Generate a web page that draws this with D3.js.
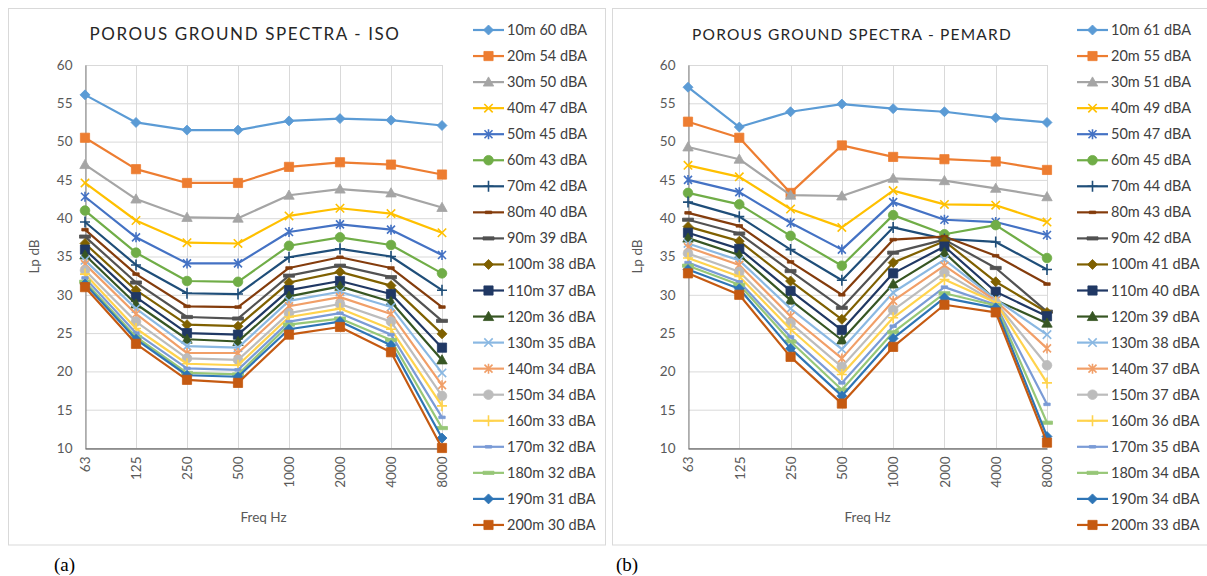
<!DOCTYPE html>
<html><head><meta charset="utf-8">
<script src="https://cdn.jsdelivr.net/npm/d3@7"></script>
<style>
html,body{margin:0;padding:0;background:#fff;}
svg{display:block;font-family:Lato,"Open Sans",sans-serif;}
</style></head>
<body>
<svg id="c" width="1207" height="576"></svg>
<script>
const freqLabels = ["63","125","250","500","1000","2000","4000","8000"];
const yTicks = [10,15,20,25,30,35,40,45,50,55,60];
const distances = ["10m","20m","30m","40m","50m","60m","70m","80m","90m","100m","110m","120m","130m","140m","150m","160m","170m","180m","190m","200m"];
const isoDBA = [60,54,50,47,45,43,42,40,39,38,37,36,35,34,34,33,32,32,31,30];
const pemardDBA = [61,55,51,49,47,45,44,43,42,41,40,39,38,37,37,36,35,34,34,33];

const isoValues = [
  [56.1,52.5,51.5,51.5,52.7,53.0,52.8,52.1],
  [50.5,46.4,44.6,44.6,46.7,47.3,47.0,45.7],
  [47.0,42.5,40.1,40.0,43.0,43.8,43.3,41.4],
  [44.6,39.7,36.8,36.7,40.3,41.3,40.6,38.1],
  [42.8,37.5,34.1,34.1,38.2,39.2,38.5,35.2],
  [41.0,35.5,31.8,31.7,36.4,37.5,36.5,32.8],
  [39.5,33.9,30.2,30.1,34.9,36.0,35.0,30.6],
  [38.5,32.7,28.5,28.4,33.5,34.9,33.5,28.4],
  [37.6,31.6,27.1,26.9,32.5,33.8,32.3,26.6],
  [36.7,30.6,26.1,25.9,31.6,33.0,31.2,24.9],
  [35.9,29.7,25.0,24.8,30.6,31.8,30.1,23.1],
  [35.2,28.8,24.2,23.9,29.8,31.1,29.1,21.5],
  [34.5,28.2,23.3,23.1,29.2,30.4,28.4,19.8],
  [34.0,27.5,22.4,22.4,28.5,29.7,27.5,18.2],
  [33.2,26.5,21.7,21.5,27.6,28.8,26.5,16.8],
  [32.7,25.6,21.0,20.8,27.1,28.2,25.5,15.5],
  [32.2,25.0,20.4,20.2,26.5,27.6,24.8,14.0],
  [31.7,24.5,19.8,19.6,26.1,26.9,24.1,12.6],
  [31.4,24.2,19.5,19.3,25.5,26.5,23.4,11.3],
  [31.0,23.6,18.9,18.5,24.8,25.8,22.5,10.0]
];
const pemardValues = [
  [57.1,51.9,53.9,54.9,54.3,53.9,53.1,52.5],
  [52.6,50.5,43.3,49.5,48.0,47.7,47.4,46.3],
  [49.3,47.7,43.0,42.9,45.2,44.9,43.9,42.8],
  [46.9,45.4,41.2,38.8,43.6,41.8,41.7,39.5],
  [45.0,43.4,39.4,35.9,42.1,39.8,39.5,37.8],
  [43.3,41.8,37.7,33.8,40.4,37.9,39.1,34.8],
  [42.1,40.2,35.9,31.9,38.8,37.3,36.9,33.3],
  [40.7,39.0,34.3,30.0,37.2,37.6,35.1,31.4],
  [39.8,38.0,33.1,28.3,35.5,37.2,33.5,27.8],
  [38.9,37.0,31.8,26.8,34.2,37.0,31.7,27.7],
  [38.1,36.0,30.5,25.4,32.8,36.3,30.4,27.2],
  [37.4,35.2,29.3,24.1,31.4,35.5,29.3,26.3],
  [36.7,34.5,28.2,22.9,30.3,34.6,29.4,24.8],
  [36.2,33.9,27.2,21.7,29.2,33.8,29.2,23.0],
  [35.4,33.0,26.3,20.6,28.0,32.9,29.0,20.8],
  [34.8,32.4,25.5,19.6,27.0,32.0,29.0,18.5],
  [34.2,31.7,24.5,18.5,25.9,31.0,28.7,15.7],
  [33.8,31.3,23.9,17.6,25.1,30.2,28.6,13.3],
  [33.3,30.8,23.0,16.8,24.3,29.6,28.3,11.5],
  [32.8,30.0,21.9,15.8,23.2,28.7,27.7,10.7]
];

const colors = ["#5B9BD5","#ED7D31","#A5A5A5","#FFC000","#4472C4","#70AD47",
  "#1F4E79","#843C0C","#525252","#7F6000","#203864","#375623",
  "#8AB8E2","#F19F68","#BCBCBC","#FFD34D","#7A9BD6","#97C777",
  "#2E75B6","#C55A11"];
const markerTypes = ["diamond","square","triangle","x","star","circle","plus","dash","longdash",
  "diamond","square","triangle","x","star","circle","plus","dash","longdash","diamond","square"];

function markerPath(t){
  switch(t){
    case "diamond": return "M0,-5L5,0L0,5L-5,0Z";
    case "square": return "M-4.6,-4.6H4.6V4.6H-4.6Z";
    case "triangle": return "M0,-5.2L5.2,4L-5.2,4Z";
    case "x": return "M-4.2,-4.2L4.2,4.2M-4.2,4.2L4.2,-4.2";
    case "star": return "M-4,-4L4,4M-4,4L4,-4M0,-5V5";
    case "circle": return "M4.8,0A4.8,4.8 0 1 1 -4.8,0A4.8,4.8 0 1 1 4.8,0Z";
    case "plus": return "M-5,0H5M0,-5.5V5.5";
    case "dash": return "M-3.2,-1.3H3.2V1.3H-3.2Z";
    case "longdash": return "M-5.5,-1.6H5.5V1.6H-5.5Z";
  }
}
const strokeOnly = new Set(["x","star","plus"]);

function drawMarker(g, t, c, x, y){
  const p = g.append("path").attr("d", markerPath(t)).attr("transform",`translate(${x},${y})`);
  if(strokeOnly.has(t)) p.attr("fill","none").attr("stroke",c).attr("stroke-width",1.6);
  else p.attr("fill",c).attr("stroke",c).attr("stroke-width",0.8);
}

const svg = d3.select("#c");

function drawChart(cfg){
  const g = svg.append("g");
  g.append("rect").attr("x",cfg.px).attr("y",8.5).attr("width",cfg.pw).attr("height",536.5)
    .attr("fill","#fff").attr("stroke","#D9D9D9").attr("stroke-width",1);

  const x = d3.scalePoint().domain(freqLabels).range([cfg.x0,cfg.x1]);
  const y = d3.scaleLinear().domain([10,60]).range([448,65]);

  g.append("g").selectAll("line.h").data(yTicks).join("line")
    .attr("x1",cfg.x0).attr("x2",cfg.x1).attr("y1",d=>y(d)+0.5).attr("y2",d=>y(d)+0.5)
    .attr("stroke","#D9D9D9").attr("stroke-width",1);
  g.append("g").selectAll("line.v").data(freqLabels).join("line")
    .attr("x1",d=>Math.round(x(d))+0.5).attr("x2",d=>Math.round(x(d))+0.5).attr("y1",y(60)).attr("y2",y(10))
    .attr("stroke","#D9D9D9").attr("stroke-width",1);

  const ya = g.append("g").attr("transform",`translate(${cfg.x0+0.5},0)`)
    .call(d3.axisLeft(y).tickValues(yTicks).tickSize(0).tickPadding(13).tickFormat(d3.format("d")));
  ya.select(".domain").attr("stroke","#7F7F7F");
  ya.selectAll("text").attr("fill","#595959").style("font-size","13.5px").style("font-family","Lato");

  const xa = g.append("g").attr("transform",`translate(0,${y(10)+0.5})`)
    .call(d3.axisBottom(x).tickSize(0));
  xa.select(".domain").attr("stroke","#404040");
  xa.selectAll("text").attr("y",0).attr("x",-8).attr("dy","0.35em")
    .attr("transform","rotate(-90)").style("text-anchor","end")
    .attr("fill","#595959").style("font-size","13.5px").style("font-family","Lato");

  g.append("text").attr("x",cfg.tx).attr("y",40).attr("text-anchor","middle")
    .style("font-size",cfg.tfs).style("letter-spacing",cfg.tls).attr("fill","#262626").text(cfg.title);
  g.append("text").attr("transform",`translate(${cfg.x0-46},${(y(60)+y(10))/2}) rotate(-90)`)
    .attr("text-anchor","middle").style("font-size","13.5px").attr("fill","#595959").text("Lp dB");
  g.append("text").attr("x",(cfg.x0+cfg.x1)/2).attr("y",522).attr("text-anchor","middle")
    .style("font-size","13.5px").attr("fill","#595959").text("Freq Hz");

  const line = d3.line().x((d,i)=>x(freqLabels[i])).y(d=>y(d));
  cfg.values.forEach((vals,si)=>{
    const c = colors[si];
    const sg = g.append("g");
    sg.append("path").attr("d",line(vals)).attr("fill","none").attr("stroke",c)
      .attr("stroke-width",2.2).attr("stroke-linejoin","round").attr("stroke-linecap","round");
    vals.forEach((v,i)=>drawMarker(sg, markerTypes[si], c, x(freqLabels[i]), y(v)));
  });

  const lg = g.append("g");
  distances.forEach((d,i)=>{
    const cy = 30 + i*26.05;
    const c = colors[i];
    lg.append("line").attr("x1",cfg.lx).attr("x2",cfg.lx+31).attr("y1",cy).attr("y2",cy)
      .attr("stroke",c).attr("stroke-width",2.2);
    drawMarker(lg, markerTypes[i], c, cfg.lx+15.5, cy);
    lg.append("text").attr("x",cfg.lx+34).attr("y",cy+5).style("font-size","14.5px")
      .attr("fill","#404040").text(`${d} ${cfg.dba[i]} dBA`);
  });
}

drawChart({px:8.5,pw:597,x0:85,x1:442,tx:245,lx:473,tfs:"17px",tls:"1.6px",title:"POROUS GROUND SPECTRA - ISO",values:isoValues,dba:isoDBA});
drawChart({px:612.5,pw:600,x0:688,x1:1047,tx:852,lx:1077,tfs:"15.5px",tls:"1.2px",title:"POROUS GROUND SPECTRA - PEMARD",values:pemardValues,dba:pemardDBA});

svg.append("text").attr("x",54).attr("y",571).style("font-family","'Liberation Serif','Times New Roman',serif")
  .style("font-size","19px").attr("fill","#000").text("(a)");
svg.append("text").attr("x",616).attr("y",571).style("font-family","'Liberation Serif','Times New Roman',serif")
  .style("font-size","19px").attr("fill","#000").text("(b)");
</script>
</body></html>
